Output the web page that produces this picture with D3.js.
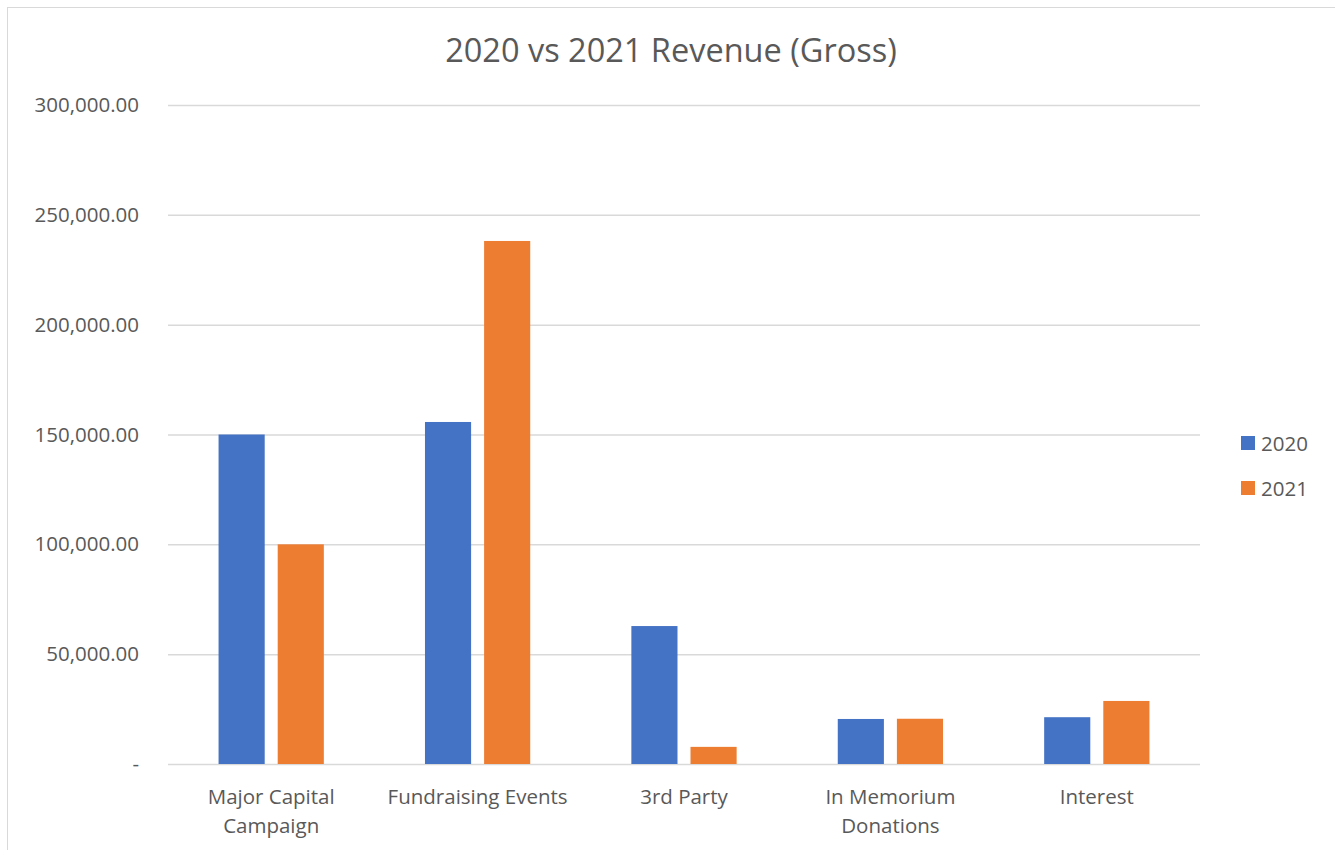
<!DOCTYPE html>
<html>
<head>
<meta charset="utf-8">
<script src="https://cdn.jsdelivr.net/npm/d3@7"></script>
<style>
  body { margin: 0; background: #fff; }
  text { font-family: "Open Sans", sans-serif; fill: #595959; }
</style>
</head>
<body>
<script>
const categories = [["Major Capital", "Campaign"], ["Fundraising Events"], ["3rd Party"], ["In Memorium", "Donations"], ["Interest"]];
const seriesNames = ["2020", "2021"];
const values2020 = [150000, 155700, 62800, 20500, 21300];
const values2021 = [100000, 238100, 7800, 20600, 28700];
const yTicks = [0, 50000, 100000, 150000, 200000, 250000, 300000];
const colors = ["#4472C4", "#ED7D31"];

function main(){
    const canvasWidth = 1335;
    const canvasHeight = 850;

    const svg = d3.select("body").append("svg")
        .attr("width", canvasWidth)
        .attr("height", canvasHeight);

    // chart frame, right and bottom edges fall outside the picture
    svg.append("rect")
        .attr("x", 7.5).attr("y", 7.5)
        .attr("width", 1345).attr("height", 860)
        .attr("fill", "none")
        .attr("stroke", "#D9D9D9");

    svg.append("text")
        .attr("x", 671)
        .attr("y", 62)
        .attr("text-anchor", "middle")
        .attr("font-size", "32.5px")
        .text("2020 vs 2021 Revenue (Gross)");

    const left = 168, right = 1200, top = 105, bottom = 764;
    const catKeys = categories.map(c => c.join(" "));

    const x0 = d3.scaleBand().domain(catKeys).range([left, right])
        .paddingInner(0.49).paddingOuter(0.245);
    const x1 = d3.scaleBand().domain(seriesNames).range([0, x0.bandwidth()])
        .paddingInner(0.22).paddingOuter(0);
    const y = d3.scaleLinear().domain([0, 300000]).range([bottom, top]);

    const fmt = d3.format(",.2f");
    const yAxis = d3.axisLeft(y).tickValues(yTicks)
        .tickSize(-(right - left)).tickPadding(29)
        .tickFormat(d => d === 0 ? "-" : fmt(d));

    const gy = svg.append("g").attr("transform", `translate(${left},0)`).call(yAxis);
    gy.select(".domain").remove();
    gy.selectAll(".tick line").attr("stroke", "#D9D9D9").attr("stroke-width", 1.5);
    gy.selectAll(".tick text").attr("font-size", "20.5px").attr("fill", "#595959")
        .attr("font-family", "Open Sans, sans-serif");

    const rows = catKeys.map((k, i) => ({ key: k, vals: [values2020[i], values2021[i]] }));

    const groups = svg.append("g").selectAll("g").data(rows).join("g")
        .attr("transform", d => `translate(${x0(d.key)},0)`);
    groups.selectAll("rect")
        .data(d => d.vals.map((v, j) => ({ name: seriesNames[j], v: v, j: j })))
        .join("rect")
        .attr("x", d => x1(d.name))
        .attr("width", x1.bandwidth())
        .attr("y", d => y(d.v))
        .attr("height", d => y(0) - y(d.v))
        .attr("fill", d => colors[d.j]);

    // category labels
    const xl = svg.append("g");
    categories.forEach((c, i) => {
        const t = xl.append("text")
            .attr("x", x0(catKeys[i]) + x0.bandwidth() / 2)
            .attr("y", 804)
            .attr("text-anchor", "middle")
            .attr("font-size", "20.5px");
        c.forEach((line, k) => {
            t.append("tspan").attr("x", x0(catKeys[i]) + x0.bandwidth() / 2)
                .attr("dy", k === 0 ? 0 : 29).text(line);
        });
    });

    // legend
    const legend = svg.append("g").attr("transform", "translate(1241,436)");
    seriesNames.forEach((s, i) => {
        legend.append("rect").attr("x", 0).attr("y", i * 45)
            .attr("width", 14).attr("height", 14).attr("fill", colors[i]);
        legend.append("text").attr("x", 20).attr("y", i * 45 + 14.5)
            .attr("font-size", "20.5px").text(s);
    });
}
main();
</script>
</body>
</html>
